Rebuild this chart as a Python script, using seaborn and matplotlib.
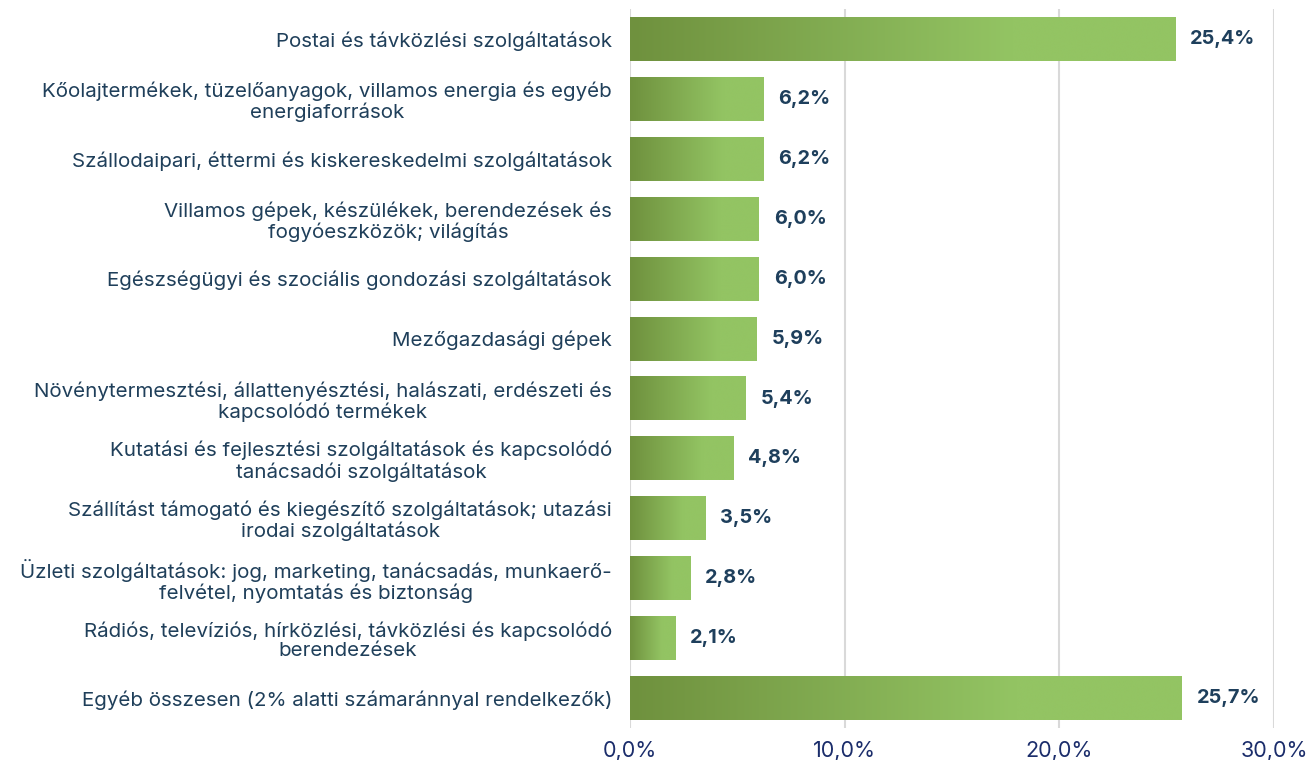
import numpy as np
import pandas as pd
import matplotlib.pyplot as plt
from matplotlib.colors import LinearSegmentedColormap
import seaborn as sns

# Data
categories = [
    'Postai és távközlési szolgáltatások',
    'Kőolajtermékek, tüzelőanyagok, villamos energia és egyéb\nenergiaforrások',
    'Szállodaipari, éttermi és kiskereskedelmi szolgáltatások',
    'Villamos gépek, készülékek, berendezések és\nfogyóeszközök; világítás',
    'Egészségügyi és szociális gondozási szolgáltatások',
    'Mezőgazdasági gépek',
    'Növénytermesztési, állattenyésztési, halászati, erdészeti és\nkapcsolódó termékek',
    'Kutatási és fejlesztési szolgáltatások és kapcsolódó\ntanácsadói szolgáltatások',
    'Szállítást támogató és kiegészítő szolgáltatások; utazási\nirodai szolgáltatások',
    'Üzleti szolgáltatások: jog, marketing, tanácsadás, munkaerő-\nfelvétel, nyomtatás és biztonság',
    'Rádiós, televíziós, hírközlési, távközlési és kapcsolódó\nberendezések',
    'Egyéb összesen (2% alatti számaránnyal rendelkezők)',
]
shares = [25.4, 6.2, 6.2, 6.0, 6.0, 5.9, 5.4, 4.8, 3.5, 2.8, 2.1, 25.7]
x_ticks = [0, 10, 20, 30]

df = pd.DataFrame({'category': categories, 'share': shares})

sns.set_style('white')
plt.rcParams['font.family'] = ['Inter', 'DejaVu Sans']

fig = plt.figure(figsize=(13.11, 7.6), dpi=100)
ax = fig.add_axes([0.4806, 0.042, 0.4912, 0.946])

sns.barplot(data=df, x='share', y='category', orient='h', width=0.73,
            color='#93c463', ax=ax)

# gradient fill: dark green on the left, light green from ~70% of each bar
cmap = LinearSegmentedColormap.from_list('grn', ['#6f913e', '#93c463'])
t = np.linspace(0, 1, 256)
grad = np.clip(t / 0.7, 0, 1).reshape(1, -1)
for p in ax.patches:
    x0, y0 = p.get_x(), p.get_y()
    w, h = p.get_width(), p.get_height()
    ax.imshow(grad, cmap=cmap, extent=[x0, x0 + w, y0 + h, y0],
              aspect='auto', zorder=2, interpolation='bicubic')
    p.set_visible(False)

ax.set_xlim(0, 30)
ax.set_ylim(len(categories) - 0.5, -0.5)

# value labels
for i, v in enumerate(shares):
    ax.text(v + 0.7, i, f'{v:.1f}%'.replace('.', ','), va='center', ha='left',
            fontsize=14.3, fontweight='bold', color='#1e3f5c')

ax.set_xticks(x_ticks)
ax.set_xticklabels([f'{v:.1f}%'.replace('.', ',') for v in x_ticks],
                   fontsize=15.5, color='#1b2d6b')
ax.tick_params(axis='y', labelsize=14.8, labelcolor='#1f3f5a', length=0, pad=13)
ax.tick_params(axis='x', length=0, pad=9)
for lbl in ax.get_yticklabels():
    lbl.set_multialignment('center')
    lbl.set_linespacing(1.1)
ax.set_xlabel('')
ax.set_ylabel('')
ax.grid(axis='x', color='#d9d9d9', linewidth=1.5, zorder=0)
ax.set_axisbelow(True)
sns.despine(ax=ax, left=True, bottom=True)

fig.savefig('out.png', dpi=100)
